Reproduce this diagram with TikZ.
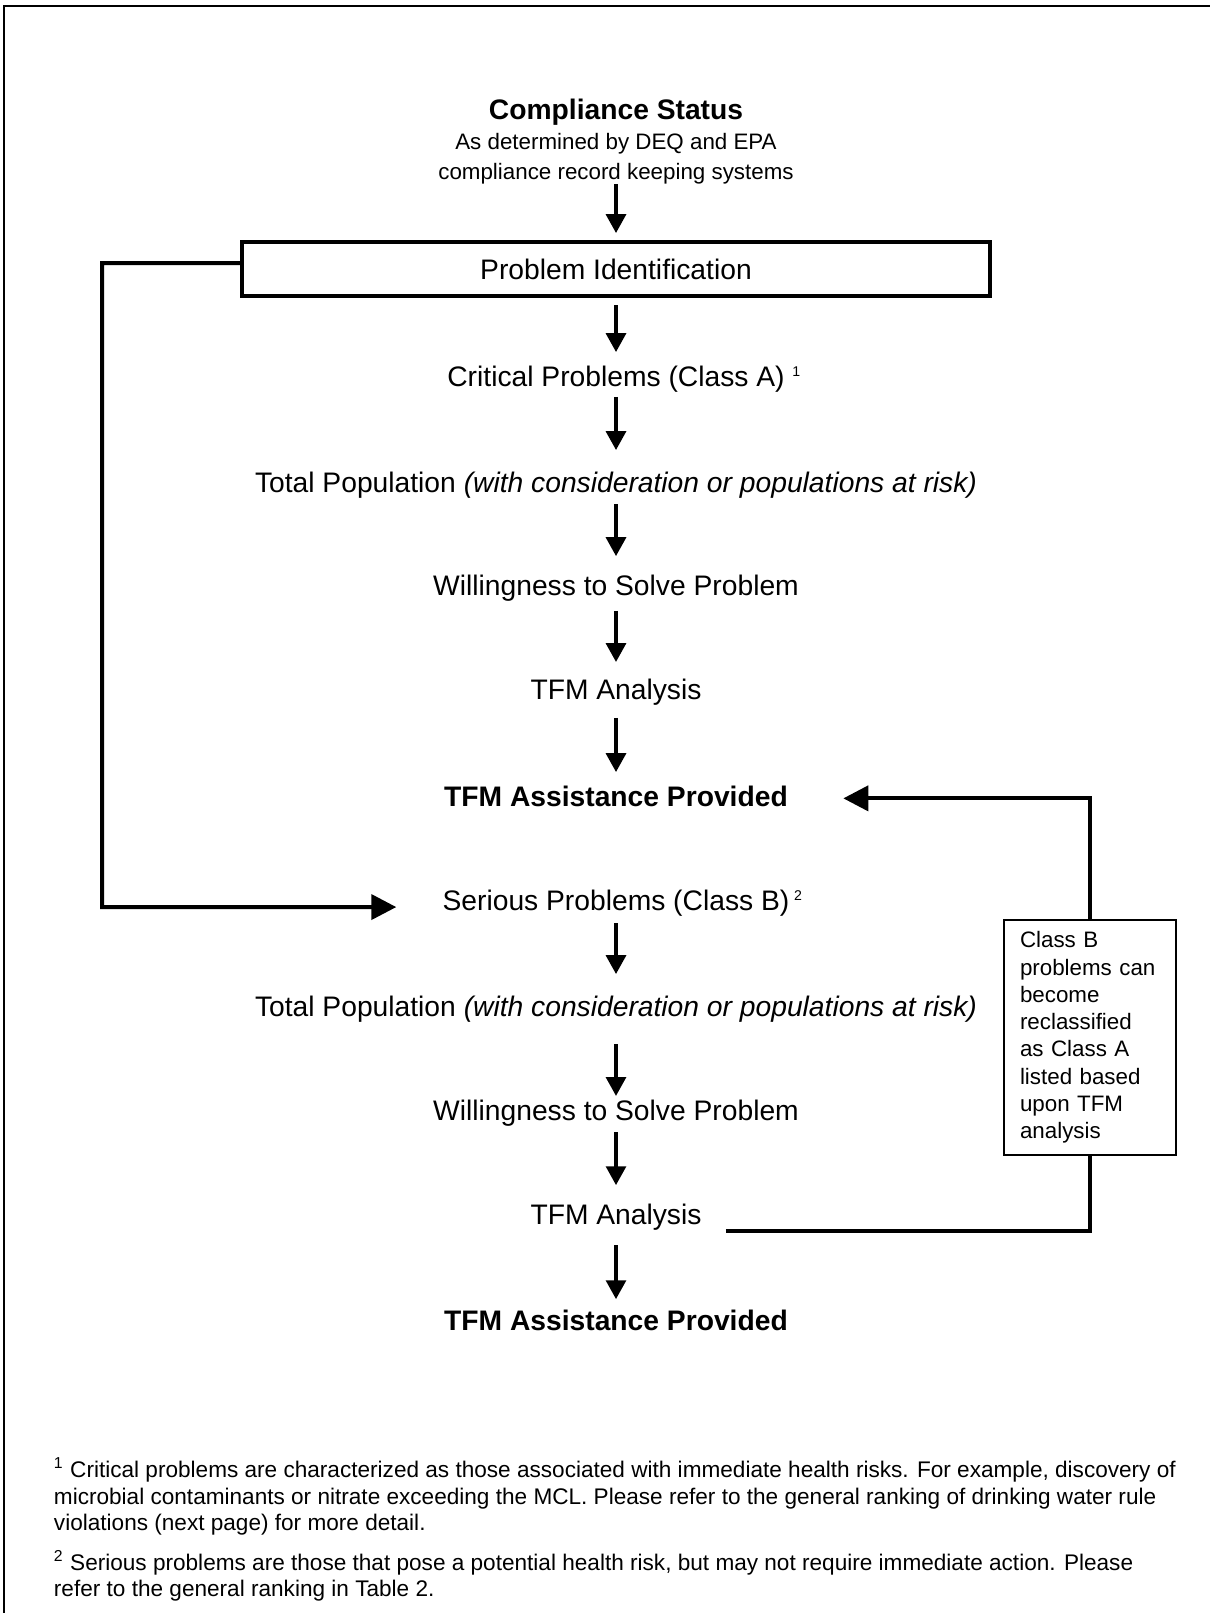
\documentclass[tikz,border=0pt]{standalone}
\usepackage{fontspec}
\setmainfont{Liberation Sans}
\usepackage{tikz}
\usetikzlibrary{arrows.meta, positioning, calc}
\tikzstyle{stage} = [inner sep=0pt, text height=8.6pt, text depth=0pt, font=\fontsize{12}{14}\selectfont]
\tikzstyle{result} = [stage, font=\fontsize{12}{14}\selectfont\bfseries]
\tikzstyle{flowarrow} = [->, >={Triangle[length=8pt,width=8.5pt]}, line width=1.3pt]
\tikzstyle{backline} = [line width=1.7pt]
\tikzstyle{backarrow} = [backline, ->, >={Triangle[length=10.6pt,width=10.6pt]}]
\tikzstyle{fnline} = [anchor=west, inner sep=0pt, text height=6.9pt, text depth=0pt, font=\fontsize{9.6}{11}\selectfont]
\newcommand{\fnmark}[1]{\raisebox{4pt}{\fontsize{6}{6}\selectfont #1}}

\begin{document}
\begin{tikzpicture}[x=0.425pt, y=-0.425pt]
\useasboundingbox (0,0) rectangle (1210,1613);
% Page frame
\draw[line width=0.9pt] (4,1613) -- (4,6) -- (1210,6);

% Source of the compliance data
\node[result] (status) at (616,109) {Compliance Status};
\node[inner sep=0pt, align=center, font=\fontsize{9.5}{12.75}\selectfont] (source) at (616,158.5) {As determined by DEQ and EPA\\compliance record keeping systems};
\node[draw, line width=1.6pt, minimum width=318pt, minimum height=23pt, stage] (prob) at (616,269) {Problem Identification};

% Class A problems
\node[stage] (crit1) at (616,376) {Critical Problems (Class A)\rlap{~\fnmark{1}}};
\node[stage] (pop1) at (616,482) {Total Population \textit{(with consideration or populations at risk)}};
\node[stage] (will1) at (616,585) {Willingness to Solve Problem};
\node[stage] (ana1) at (616,689) {TFM Analysis};
\node[result] (assist1) at (616,796) {TFM Assistance Provided};

% Class B problems
\node[stage] (serious) at (616,900) {Serious Problems (Class B)\rlap{\,\fnmark{2}}};
\node[stage] (pop2) at (616,1006) {Total Population \textit{(with consideration or populations at risk)}};
\node[stage] (will2) at (616,1110) {Willingness to Solve Problem};
\node[stage] (ana2) at (616,1214) {TFM Analysis};
\node[result] (assist2) at (616,1320) {TFM Assistance Provided};

% Reclassification note
\node[draw, line width=0.6pt, fill=white, inner xsep=6.8pt, text width=59.5pt, minimum height=100pt, align=left, font=\fontsize{9.5}{11.6}\selectfont] (reclass) at (1090,1037.5) {Class B\\problems can\\become\\reclassified\\as Class A\\listed based\\upon TFM\\analysis};

% Downward arrows
\draw[flowarrow, shorten >=3pt] (source.south) -- (prob.north);
\foreach \a/\b/\ds/\de in {prob/crit1/15.3/10.2, crit1/pop1/8.9/13.6, pop1/will1/9.4/12.3, will1/ana1/11/11.5, ana1/assist1/12.3/10.2, serious/pop2/9.8/13.6, pop2/will2/16.2/6, will2/ana2/9.4/12.3, ana2/assist2/13.2/8.9} {
    \draw[flowarrow] ([yshift=-\ds pt]\a.center) -- ([yshift=\de pt]\b.center);
}

% Return lines
\coordinate (lbend) at (102,263);
\draw[backarrow, shorten >=19.5pt] ([yshift=2.5pt]prob.west) -- (lbend) |- ([yshift=-3pt]serious.west);
\draw[backline] ([xshift=10.2pt,yshift=-7.2pt]ana2.east) -| (reclass.south);
\draw[backarrow, shorten >=23.4pt] (reclass.north) |- ([yshift=-1pt]assist1.east);

% Footnotes
\node[fnline] (fn1a) at (53.5,1469) {\textsuperscript{1} Critical problems are characterized as those associated with immediate health risks. For example, discovery of};
\node[fnline] (fn1b) at (53.5,1496) {microbial contaminants or nitrate exceeding the MCL. Please refer to the general ranking of drinking water rule};
\node[fnline] (fn1c) at (53.5,1522) {violations (next page) for more detail.};
\node[fnline] (fn2a) at (53.5,1562) {\textsuperscript{2} Serious problems are those that pose a potential health risk, but may not require immediate action. Please};
\node[fnline] (fn2b) at (53.5,1588) {refer to the general ranking in Table 2.};
\end{tikzpicture}
\end{document}
